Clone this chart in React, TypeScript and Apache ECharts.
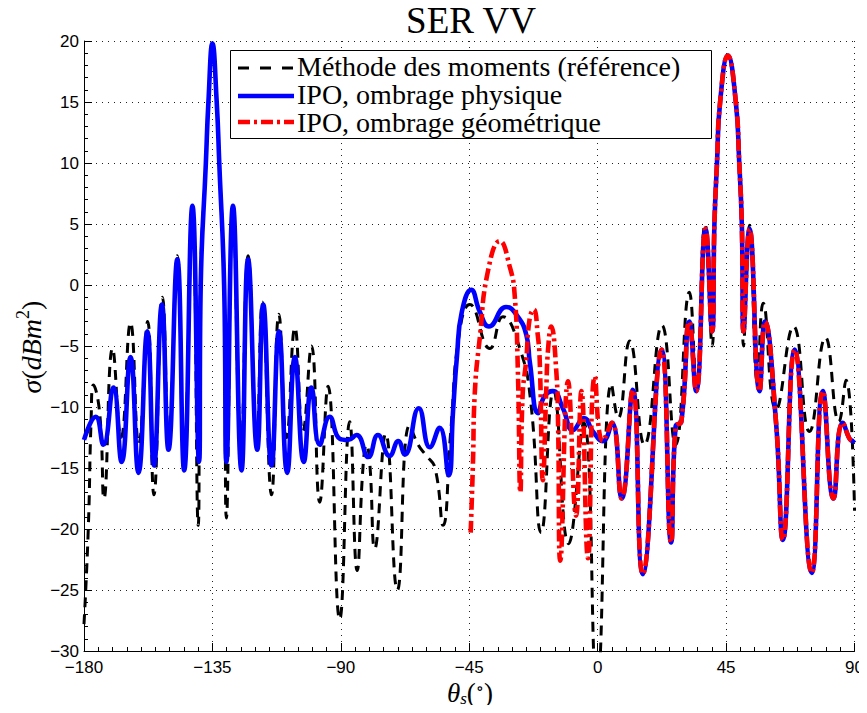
import React, { useEffect, useRef } from 'react';
import * as echarts from 'echarts';

// x tick labels and y tick labels
const xTicks = [-180, -135, -90, -45, 0, 45, 90];
const yTicks = [-30, -25, -20, -15, -10, -5, 0, 5, 10, 15, 20];

const seriesNames = [
  'Méthode des moments (référence)',
  'IPO, ombrage physique',
  'IPO, ombrage géométrique',
];

// Méthode des moments (reference) — [theta, sigma]
const momData: [number, number][] = [
  [-180, -27.8], [-178.5, -20], [-177.5, -11], [-176.7, -8.2], [-174.5, -10.5], [-173, -17.5],
  [-170, -5.2], [-167, -12.5], [-163.7, -3.1], [-160.8, -13], [-157.7, -3.0], [-155.5, -17.2],
  [-152.5, -1.0], [-150.3, -12.5], [-147.3, 2.4], [-145, -14], [-142, 6.3], [-140, -19.7],
  [-139.2, 0], [-137.3, 10], [-136.4, 15], [-135, 19.8], [-133.5, 15], [-132.6, 10], [-130.9, 0],
  [-130.1, -19.1], [-127.8, 6.3], [-125, -13.5], [-122.5, 2.4], [-119.5, -12.5], [-117.5, -1.4],
  [-114.3, -17.2], [-111.7, -2.4], [-109, -12.5], [-106.1, -3.5], [-103.3, -12], [-100.3, -5.0],
  [-97.4, -17.8], [-94.5, -8.3], [-90.4, -27.4], [-86.9, -11.2], [-84.3, -23.4], [-82.2, -14.8],
  [-81, -13.1], [-79.9, -14.5], [-78.1, -21.6], [-74.3, -12.2], [-70.2, -25.0], [-65.9, -11.5],
  [-62.9, -13.1], [-60, -14], [-57, -15], [-54.2, -19.7], [-51.5, -12], [-48.5, -4],
  [-44.8, -1.6], [-37.8, -5.2], [-33.2, -2.6], [-27.3, -5.2], [-23.5, -9.5], [-19.8, -20.3],
  [-15.5, -8.7], [-10.2, -21.2], [-4.9, -11.3], [-0.3, -33], [4.8, -8.1], [7.2, -10.9],
  [11.2, -4.6], [16.4, -13.1], [22.5, -3.3], [27.3, -13.1], [32.1, -0.6], [34.6, -8],
  [37.6, 5.0], [40.1, -5], [40.9, 5], [41.8, 10], [42.9, 15], [45.6, 18.8], [48.4, 15],
  [49.6, 10], [50.5, 5], [51.1, -5], [53.2, 4.9], [56.0, -8], [58.0, -1.5], [62.5, -10.2],
  [68.6, -3.4], [74.2, -12], [79.8, -4.3], [84.5, -11.2], [87, -7.8], [90, -18.5],
];

// IPO, ombrage physique — part before the shared right side
const ipoPhysLeft: [number, number][] = [
  [-180, -12.7], [-175.9, -10.8], [-173.2, -13.1], [-169.7, -8.4], [-166.8, -14.5], [-163.7, -5.9],
  [-160.9, -15.4], [-157.8, -3.8], [-155.5, -14.8], [-152.7, -1.6], [-150.4, -13.5], [-147.3, 2.1],
  [-144.9, -15.2], [-142.0, 6.5], [-139.7, -14.5], [-139.1, 0], [-137.3, 10], [-136.4, 15],
  [-135.0, 19.8], [-133.5, 15], [-132.6, 10], [-130.9, 0], [-130.1, -14.5], [-127.8, 6.5],
  [-124.8, -15.2], [-122.5, 2.1], [-119.3, -13.5], [-117.2, -1.6], [-114.3, -14.8], [-111.7, -3.8],
  [-108.8, -15.4], [-106.1, -5.9], [-103.0, -14.5], [-100.3, -8.4], [-97.4, -13.1], [-93.9, -10.8],
  [-90.4, -12.6], [-87.5, -12.7], [-84.5, -12.3], [-80.4, -14.1], [-77, -12.3], [-72.9, -14],
  [-69.9, -12.8], [-67.6, -13.9], [-62.7, -10.1], [-58.8, -13.3], [-55.4, -11.7], [-52.2, -15.6],
  [-50.7, -10.4], [-49.3, -5.8], [-47.6, -2.2], [-44.3, -0.4], [-41.3, -2.2], [-38.1, -3.4],
  [-32.1, -1.8], [-28, -2.6], [-25, -4.1], [-23.8, -6.3], [-20.9, -10.5], [-18.6, -9.1],
  [-15.7, -8.7], [-12.2, -10.1], [-8.7, -11.9], [-4.8, -10.9], [-1.7, -12.0],
];

// IPO, ombrage géométrique — part that differs (starts near -45)
const ipoGeoMid: [number, number][] = [
  [-44.5, -20.3], [-43.7, -14.5], [-43.1, -9], [-41.3, -4.3], [-38.4, 1.2], [-34.3, 3.6],
  [-30.7, 1.4], [-29.1, -0.8], [-28, -6.8], [-27.1, -17], [-26.3, -9], [-25.1, -6.3],
  [-23.8, -2.7], [-22.4, -2.0], [-21, -4.1], [-20.3, -6.3], [-19.2, -16], [-18, -8.5],
  [-17.4, -5.3], [-16.3, -3.4], [-14.5, -7.1], [-13.9, -11.2], [-13.1, -22.6], [-10.4, -7.9],
  [-7.6, -18.9], [-5.7, -8.7], [-3.4, -22.4], [-1.0, -7.5],
];

// both IPO curves coincide here
const ipoShared: [number, number][] = [
  [1.8, -12.8], [5, -11.3], [8.4, -17.5], [12.3, -8.6], [15.8, -23.7], [22.4, -5.3],
  [25.7, -21.1], [27.3, -11.6], [29.3, -11.2], [32.1, -3.0], [34.5, -8.7], [37.8, 4.6],
  [40.1, -3.8], [40.9, 5], [41.8, 10], [42.9, 15], [45.6, 18.8], [48.4, 15], [49.6, 10],
  [50.5, 5], [51.1, -3.8], [53.2, 4.6], [56.7, -8.7], [58.6, -3.0], [62.5, -11.3],
  [64.9, -20.9], [69.0, -5.3], [75.0, -23.6], [78.9, -8.7], [82.6, -17.5], [85.9, -11.3],
  [89.4, -12.8], [90, -12.7],
];

const MINUS = '\u2212';
const fmt = (v: number) => String(v).replace('-', MINUS);

export default function App() {
  const ref = useRef<HTMLDivElement>(null);

  useEffect(() => {
    if (!ref.current) return;
    const chart = echarts.init(ref.current, undefined, { renderer: 'svg' });

    const blueData = [...ipoPhysLeft, ...ipoShared];
    const redData = [...ipoGeoMid, ...ipoShared];

    const axisCommon = {
      axisLine: { show: true, onZero: false, lineStyle: { color: '#000', width: 1 } },
      axisTick: { show: true, inside: true, length: 8, lineStyle: { color: '#000', width: 1 } },
      splitLine: { show: true, lineStyle: { color: '#222', width: 1, type: [1, 5] } },
    };

    const blackDash = [10, 7];
    const redDash = [12, 4, 3, 4];
    const legendRows = [68, 96, 122];
    const legendTextY = [66, 94, 122];
    const serif = '"Liberation Serif", "DejaVu Serif", serif';

    const option: any = {
      animation: false,
      backgroundColor: '#ffffff',
      grid: { left: 84, right: 10, top: 41, bottom: 62, containLabel: false },
      xAxis: {
        type: 'value',
        min: xTicks[0],
        max: xTicks[xTicks.length - 1],
        interval: 45,
        ...axisCommon,
        minorTick: { show: true, splitNumber: 9, length: 4, lineStyle: { color: '#000', width: 1 } },
        axisLabel: {
          formatter: fmt,
          color: '#000',
          fontSize: 17,
          fontFamily: '"Liberation Sans", Arial, sans-serif',
          margin: 8,
        },
      },
      yAxis: {
        type: 'value',
        min: yTicks[0],
        max: yTicks[yTicks.length - 1],
        interval: 5,
        ...axisCommon,
        minorTick: { show: true, splitNumber: 5, length: 4, lineStyle: { color: '#000', width: 1 } },
        axisLabel: {
          formatter: fmt,
          color: '#000',
          fontSize: 17,
          fontFamily: '"Liberation Sans", Arial, sans-serif',
          margin: 5,
        },
      },
      series: [
        {
          type: 'line',
          name: seriesNames[0],
          data: momData,
          symbol: 'none',
          smooth: 0.5,
          lineStyle: { color: '#000000', width: 3, type: blackDash },
          z: 2,
        },
        {
          type: 'line',
          name: seriesNames[1],
          data: blueData,
          symbol: 'none',
          smooth: 0.5,
          lineStyle: { color: '#0000ff', width: 4.6 },
          z: 3,
        },
        {
          type: 'line',
          name: seriesNames[2],
          data: redData,
          symbol: 'none',
          smooth: 0.5,
          lineStyle: { color: '#ff0000', width: 4.6, type: redDash },
          z: 4,
        },
      ],
      graphic: [
        {
          type: 'text',
          x: 471,
          y: 20,
          z: 100,
          style: {
            text: 'SER VV',
            font: `37px ${serif}`,
            fill: '#000',
            align: 'center',
            verticalAlign: 'middle',
          },
        },
        {
          type: 'rect',
          z: 100,
          shape: { x: 230.5, y: 50.5, width: 481, height: 88 },
          style: { fill: '#fff', stroke: '#000', lineWidth: 1 },
        },
        {
          type: 'line',
          z: 101,
          shape: { x1: 238, y1: legendRows[0], x2: 294, y2: legendRows[0] },
          style: { stroke: '#000', lineWidth: 3, lineDash: [11, 11] },
        },
        {
          type: 'line',
          z: 101,
          shape: { x1: 238, y1: legendRows[1], x2: 294, y2: legendRows[1] },
          style: { stroke: '#0000ff', lineWidth: 4.6 },
        },
        {
          type: 'line',
          z: 101,
          shape: { x1: 238, y1: legendRows[2], x2: 294, y2: legendRows[2] },
          style: { stroke: '#ff0000', lineWidth: 4.6, lineDash: redDash },
        },
        ...seriesNames.map((name, i) => ({
          type: 'text',
          x: 297,
          y: legendTextY[i],
          z: 101,
          style: {
            text: name,
            font: `28px ${serif}`,
            fill: '#000',
            align: 'left',
            verticalAlign: 'middle',
          },
        })),
        {
          type: 'text',
          x: 31,
          y: 347,
          rotation: Math.PI / 2,
          z: 100,
          style: {
            text: '{i|σ}{n|(}{i|dBm}{s|2}{n|)}',
            align: 'center',
            verticalAlign: 'middle',
            fill: '#000',
            rich: {
              i: { fontSize: 28, fontStyle: 'italic', fontFamily: serif, lineHeight: 34, fill: '#000' },
              n: { fontSize: 28, fontFamily: serif, lineHeight: 34, fill: '#000' },
              s: { fontSize: 18, fontFamily: serif, verticalAlign: 'top', fill: '#000' },
            },
          },
        },
        {
          type: 'text',
          x: 470,
          y: 693,
          z: 100,
          style: {
            text: '{i|θ}{b|s}{n|(}{s|∘}{n|)}',
            align: 'center',
            verticalAlign: 'middle',
            fill: '#000',
            rich: {
              i: { fontSize: 27, fontStyle: 'italic', fontFamily: serif, lineHeight: 28, fill: '#000' },
              n: { fontSize: 27, fontFamily: serif, lineHeight: 28, fill: '#000' },
              s: { fontSize: 17, fontFamily: '"DejaVu Serif", serif', verticalAlign: 'top', fill: '#000' },
              b: { fontSize: 17, fontStyle: 'italic', fontFamily: serif, verticalAlign: 'bottom', fill: '#000' },
            },
          },
        },
      ],
    };

    chart.setOption(option);
    return () => chart.dispose();
  }, []);

  return <div ref={ref} style={{ width: 867, height: 713, margin: -8 }} />;
}
